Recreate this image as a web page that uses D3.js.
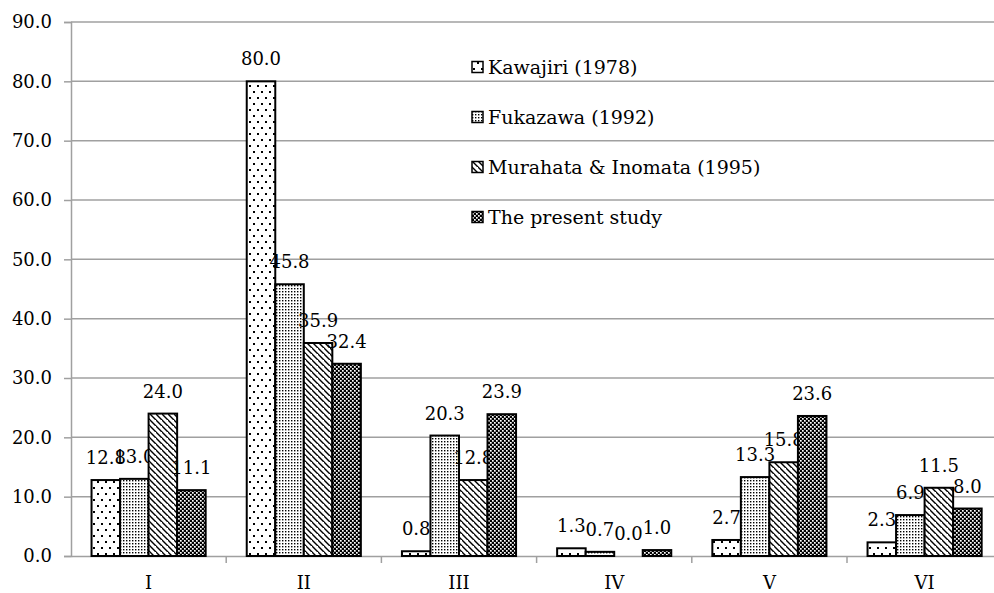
<!DOCTYPE html>
<html>
<head>
<meta charset="utf-8">
<script src="https://cdn.jsdelivr.net/npm/d3@7"></script>
<style>
  body { margin: 0; background: #fff; }
  svg { display: block; font-family: "DejaVu Serif", serif; }
</style>
</head>
<body>
<script>
// data
const categories = ['I', 'II', 'III', 'IV', 'V', 'VI']
const seriesNames = ['Kawajiri (1978)', 'Fukazawa (1992)', 'Murahata & Inomata (1995)', 'The present study']
const kawajiri = [12.8, 80.0, 0.8, 1.3, 2.7, 2.3]
const fukazawa = [13.0, 45.8, 20.3, 0.7, 13.3, 6.9]
const murahata = [24.0, 35.9, 12.8, 0.0, 15.8, 11.5]
const present = [11.1, 32.4, 23.9, 1.0, 23.6, 8.0]
const yTicks = [0, 10, 20, 30, 40, 50, 60, 70, 80, 90]

const allSeries = [kawajiri, fukazawa, murahata, present]
const patternIds = ['p-dots', 'p-fine', 'p-diag', 'p-check']

let width = 994
let height = 593
let margin = { top: 22, left: 71, bottom: 37 }
let catStep = 155.2

const svg = d3.select('body')
  .append('svg')
  .attr('width', width)
  .attr('height', height)

// patterns
const defs = svg.append('defs')

const p1 = defs.append('pattern').attr('id', 'p-dots')
  .attr('patternUnits', 'userSpaceOnUse').attr('width', 8).attr('height', 12)
p1.append('rect').attr('width', 8).attr('height', 12).attr('fill', '#fff')
p1.append('rect').attr('x', 1).attr('y', 1).attr('width', 2).attr('height', 2).attr('fill', '#000')
p1.append('rect').attr('x', 5).attr('y', 7).attr('width', 2).attr('height', 2).attr('fill', '#000')

const p2 = defs.append('pattern').attr('id', 'p-fine')
  .attr('patternUnits', 'userSpaceOnUse').attr('width', 3).attr('height', 3)
p2.append('rect').attr('width', 3).attr('height', 3).attr('fill', '#fff')
p2.append('rect').attr('x', 0).attr('y', 0).attr('width', 1.4).attr('height', 1.4).attr('fill', '#000')

const p3 = defs.append('pattern').attr('id', 'p-diag')
  .attr('patternUnits', 'userSpaceOnUse').attr('width', 6).attr('height', 6)
p3.append('rect').attr('width', 6).attr('height', 6).attr('fill', '#fff')
p3.append('path').attr('d', 'M-1,-1 L7,7 M-4,2 L2,8 M4,-4 L10,2')
  .attr('stroke', '#000').attr('stroke-width', 1.4)

const p4 = defs.append('pattern').attr('id', 'p-check')
  .attr('patternUnits', 'userSpaceOnUse').attr('width', 4).attr('height', 4)
p4.append('rect').attr('width', 4).attr('height', 4).attr('fill', '#000')
p4.append('rect').attr('x', 0).attr('y', 0).attr('width', 1.7).attr('height', 1.7).attr('fill', '#fff')
p4.append('rect').attr('x', 2).attr('y', 2).attr('width', 1.7).attr('height', 1.7).attr('fill', '#fff')

// scales
const x0 = d3.scaleBand()
  .domain(categories)
  .range([margin.left, margin.left + catStep * categories.length])
  .padding(0)

const x1 = d3.scaleBand()
  .domain(d3.range(seriesNames.length))
  .range([0, x0.bandwidth()])
  .paddingInner(0)
  .paddingOuter(0.72)

const y = d3.scaleLinear()
  .domain([0, 90])
  .range([height - margin.bottom, margin.top])

// gridlines
svg.append('g')
  .selectAll('line')
  .data(yTicks.slice(1))
  .enter()
  .append('line')
  .attr('x1', margin.left).attr('x2', width)
  .attr('y1', d => y(d)).attr('y2', d => y(d))
  .attr('stroke', '#a0a0a0')
  .attr('stroke-width', 1.5)

// y axis
const yAxis = svg.append('g')
  .attr('transform', `translate(${margin.left},0)`)
  .call(d3.axisLeft(y).tickValues(yTicks).tickFormat(d3.format('.1f')).tickSize(7).tickPadding(12))
yAxis.select('.domain').attr('stroke', '#a0a0a0').attr('stroke-width', 1.5)
yAxis.selectAll('.tick line').attr('stroke', '#a0a0a0').attr('stroke-width', 1.5)
yAxis.selectAll('text').attr('font-size', 18).attr('font-family', 'DejaVu Serif').attr('fill', '#000')

// x axis
const xAxis = svg.append('g')
  .attr('transform', `translate(0,${y(0)})`)
  .call(d3.axisBottom(x0).tickSize(0).tickPadding(20))
xAxis.select('.domain').attr('stroke', '#a0a0a0').attr('stroke-width', 1.5)
xAxis.selectAll('text').attr('font-size', 18).attr('font-family', 'DejaVu Serif').attr('fill', '#000')

// category boundary ticks
svg.append('g')
  .selectAll('line')
  .data(categories)
  .enter()
  .append('line')
  .attr('x1', d => x0(d) + x0.bandwidth()).attr('x2', d => x0(d) + x0.bandwidth())
  .attr('y1', y(0)).attr('y2', y(0) + 7)
  .attr('stroke', '#a0a0a0')
  .attr('stroke-width', 1.5)

// bars and labels, series by series
allSeries.forEach((vals, s) => {
  const g = svg.append('g')
  g.selectAll('rect')
    .data(vals)
    .enter()
    .append('rect')
    .attr('x', (d, i) => x0(categories[i]) + x1(s))
    .attr('y', d => y(d))
    .attr('width', x1.bandwidth())
    .attr('height', d => y(0) - y(d))
    .attr('fill', `url(#${patternIds[s]})`)
    .attr('stroke', '#000')
    .attr('stroke-width', 2)

  g.selectAll('text')
    .data(vals)
    .enter()
    .append('text')
    .attr('x', (d, i) => x0(categories[i]) + x1(s) + x1.bandwidth() / 2)
    .attr('y', d => y(d) - 16)
    .attr('text-anchor', 'middle')
    .attr('font-size', 18)
    .text(d => d.toFixed(1))
})

// legend
const legend = svg.append('g')
  .selectAll('g')
  .data(seriesNames)
  .enter()
  .append('g')
  .attr('transform', (d, i) => `translate(472,${67 + i * 50})`)

legend.append('rect')
  .attr('x', 0).attr('y', -5.5)
  .attr('width', 11).attr('height', 11)
  .attr('fill', (d, i) => `url(#${patternIds[i]})`)
  .attr('stroke', '#000')
  .attr('stroke-width', 1.5)

legend.append('text')
  .attr('x', 16)
  .attr('y', 0)
  .attr('dy', '0.35em')
  .attr('font-size', 19)
  .text(d => d)
</script>
</body>
</html>
